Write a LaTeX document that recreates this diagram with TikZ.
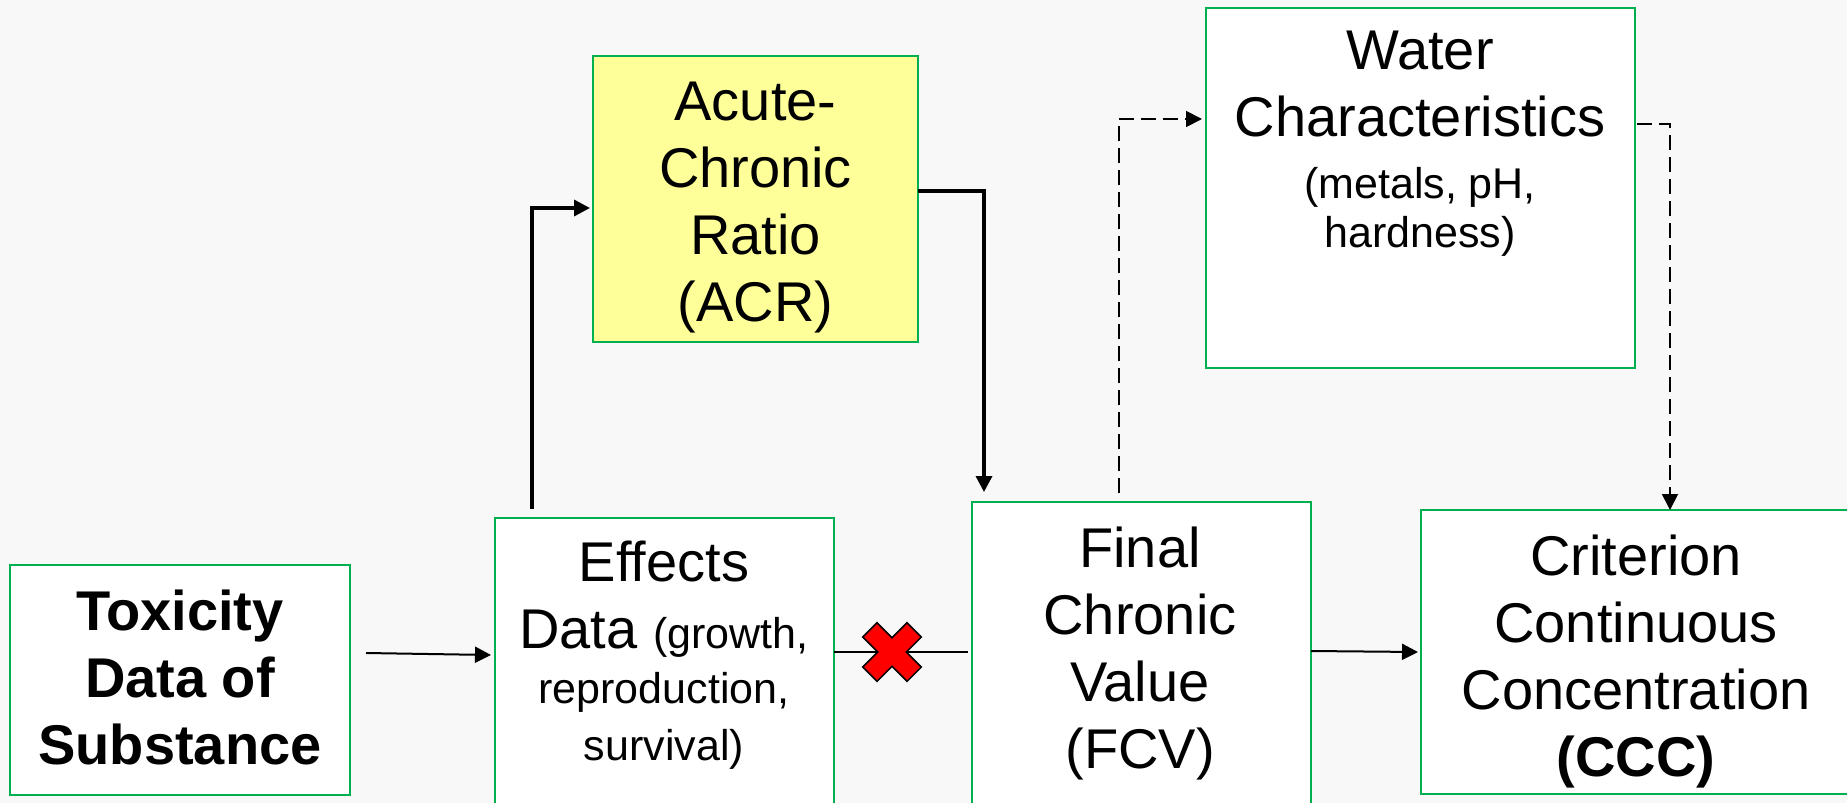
\documentclass[tikz,border=0pt]{standalone}
\usepackage{fontspec}
\setmainfont{Liberation Sans}
\usetikzlibrary{arrows.meta,calc}

\definecolor{boxgreen}{HTML}{00B050}
\definecolor{acryellow}{HTML}{FFFF99}
\definecolor{pagebg}{HTML}{F8F8F8}
\definecolor{crossred}{HTML}{FF0000}

% type sizes used in the boxes
\newcommand\bigtext{\fontsize{28pt}{33.5pt}\selectfont}
\newcommand\smalltext{\fontsize{21.5pt}{26.5pt}\selectfont}

\begin{document}
\begin{tikzpicture}[x=0.5pt,y=-0.5pt,
  box/.style={draw=boxgreen, line width=1pt, fill=white, inner sep=0pt, outer sep=0pt},
  boxtext/.style={align=center, inner sep=0pt, font=\bigtext},
  link/.style={line width=1pt, -{Triangle[length=8pt,width=8pt]}},
  heavylink/.style={line width=1.7pt, -{Triangle[length=8pt,width=8pt]}},
  dashlink/.style={line width=0.9pt, dash pattern=on 7.5pt off 3.5pt,
                   -{Triangle[length=8pt,width=8pt]}},
]
% canvas
\fill[pagebg] (0,0) rectangle (1847,803);
\useasboundingbox (0,0) rectangle (1847,803);
\clip (0,0) rectangle (1847,803);

% boxes and their texts
\node[box, minimum width=170pt, minimum height=115pt] (tox) at (180,680) {};
\node[boxtext, font=\bigtext\bfseries] (toxtext) at (180,677.5) {Toxicity\\Data of\\Substance};

\node[box, minimum width=169.5pt, minimum height=200pt, anchor=north] (eff) at (664.5,518) {};
\node[boxtext, anchor=north] (efftext) at (664,541)
  {Effects\\Data {\smalltext(growth,}\\[-6pt]{\smalltext reproduction,}\\[-5pt]{\smalltext survival)}};

\node[box, fill=acryellow, minimum width=162.5pt, minimum height=143pt] (acr) at (755.5,199) {};
\node[boxtext] (acrtext) at (755.5,208) {Acute-\\Chronic\\Ratio\\(ACR)};

\node[box, minimum width=169.5pt, minimum height=200pt, anchor=north] (fcv) at (1141.5,502) {};
\node[boxtext, anchor=north] (fcvtext) at (1140,527) {Final\\Chronic\\Value\\(FCV)};

\node[box, minimum width=214.5pt, minimum height=180pt] (water) at (1420.5,188) {};
\node[boxtext, anchor=north] (watertext) at (1420,31)
  {Water\\Characteristics\\[-2.75pt]{\smalltext (metals, pH,}\\[-9pt]{\smalltext hardness)}};

\node[box, minimum width=215pt, minimum height=142pt] (ccc) at (1636,652) {};
\node[boxtext] (ccctext) at (1636,662) {Criterion\\Continuous\\Concentration\\\textbf{(CCC)}};

% connectors
\draw[link] ($(tox.east)+(16,-27)$) -- ($(eff.north west)+(-4,137)$);
\draw[line width=1pt] ($(eff.north east)+(0,134)$) -- ($(fcv.north west)+(-4,150)$);
\draw[link] ($(fcv.north east)+(0,149)$) -- ($(ccc.north west)+(-3,142)$);

\draw[heavylink] ($(eff.north west)+(37,-9)$) |- ($(acr.north west)+(-3,152)$);
\draw[heavylink] ($(acr.north east)+(0,135)$) -| ($(fcv.north west)+(12,-10)$);

\draw[dashlink] ($(fcv.north west)+(147,-9)$) |- ($(water.north west)+(-4,111)$);
\draw[dashlink] ($(water.north east)+(2,116)$) -| ($(ccc.north west)+(249,0)$);

% the blocked path between effects data and the final chronic value
\coordinate (cross) at (892,652);
\filldraw[fill=crossred, draw=black, line width=0.75pt, shift={(cross)}]
  (-15,-29.3) -- (0,-14.3) -- (15,-29.3) -- (29.3,-15) -- (14.3,0) -- (29.3,15)
  -- (15,29.3) -- (0,14.3) -- (-15,29.3) -- (-29.3,15) -- (-14.3,0) -- (-29.3,-15) -- cycle;
\end{tikzpicture}
\end{document}
